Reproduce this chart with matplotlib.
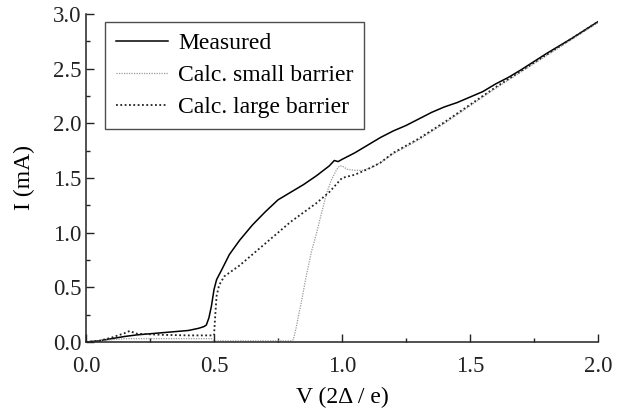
import matplotlib
matplotlib.use('Agg')
import matplotlib.pyplot as plt
from matplotlib.ticker import MultipleLocator

plt.rcParams['font.family'] = ['Liberation Serif', 'DejaVu Serif']

# measured curve
meas_v = [0.0, 0.05, 0.1, 0.15, 0.2, 0.25, 0.3, 0.35, 0.4, 0.44, 0.46, 0.47, 0.48, 0.49,
          0.5, 0.51, 0.53, 0.56, 0.6, 0.65, 0.7, 0.75, 0.8, 0.85, 0.9, 0.95, 0.97, 0.985,
          1.0, 1.05, 1.1, 1.15, 1.2, 1.25, 1.3, 1.35, 1.4, 1.45, 1.5, 1.55, 1.6, 1.65,
          1.7, 1.8, 1.9, 2.0]
meas_i = [0.0, 0.01, 0.03, 0.05, 0.065, 0.075, 0.085, 0.095, 0.105, 0.125, 0.14, 0.155,
          0.22, 0.33, 0.48, 0.57, 0.66, 0.8, 0.93, 1.07, 1.19, 1.30, 1.37, 1.44, 1.52,
          1.61, 1.66, 1.65, 1.67, 1.73, 1.80, 1.87, 1.93, 1.98, 2.04, 2.10, 2.15, 2.19,
          2.24, 2.29, 2.36, 2.42, 2.49, 2.64, 2.78, 2.93]

# calculated, small barrier
small_v = [0.0, 0.05, 0.1, 0.15, 0.2, 0.3, 0.4, 0.49, 0.5, 0.6, 0.7, 0.8, 0.81, 0.82,
           0.83, 0.84, 0.86, 0.88, 0.9, 0.92, 0.94, 0.96, 0.98, 0.99, 1.0, 1.02, 1.05,
           1.08, 1.12, 1.15, 1.2, 1.3, 1.4, 1.5, 1.6, 1.7, 1.8, 1.9, 2.0]
small_i = [0.0, 0.01, 0.02, 0.03, 0.03, 0.03, 0.03, 0.03, 0.01, 0.01, 0.01, 0.01, 0.02,
           0.12, 0.24, 0.35, 0.6, 0.82, 0.99, 1.18, 1.36, 1.49, 1.58, 1.61, 1.61, 1.58,
           1.57, 1.57, 1.6, 1.64, 1.72, 1.85, 2.0, 2.16, 2.32, 2.47, 2.62, 2.77, 2.92]

# calculated, large barrier
large_v = [0.0, 0.05, 0.1, 0.15, 0.17, 0.2, 0.25, 0.3, 0.4, 0.49, 0.5, 0.505, 0.51, 0.52,
           0.54, 0.6, 0.7, 0.8, 0.9, 0.95, 1.0, 1.05, 1.1, 1.15, 1.2, 1.3, 1.4, 1.5, 1.6,
           1.7, 1.8, 1.9, 2.0]
large_i = [0.0, 0.01, 0.04, 0.08, 0.1, 0.075, 0.07, 0.065, 0.06, 0.06, 0.06, 0.25, 0.42,
           0.52, 0.6, 0.7, 0.9, 1.1, 1.27, 1.37, 1.5, 1.53, 1.58, 1.64, 1.73, 1.86, 2.01,
           2.17, 2.33, 2.48, 2.63, 2.78, 2.93]

fig = plt.figure(figsize=(6.19, 4.12), dpi=100)
ax = fig.add_axes([0.139, 0.170, 0.827, 0.796])

ax.plot(meas_v, meas_i, color='black', lw=1.1, label='Measured')
ax.plot(small_v, small_i, color='#9a9a9a', lw=0.9, linestyle=(0, (1, 1)),
        label='Calc. small barrier')
ax.plot(large_v, large_i, color='#222222', lw=1.3, linestyle=(0, (1, 1.4)),
        label='Calc. large barrier')

ax.set_xlim(0, 2.0)
ax.set_ylim(0, 3.0)
ax.xaxis.set_major_locator(MultipleLocator(0.5))
ax.xaxis.set_minor_locator(MultipleLocator(0.25))
ax.yaxis.set_major_locator(MultipleLocator(0.5))
ax.yaxis.set_minor_locator(MultipleLocator(0.25))
ax.xaxis.set_major_formatter(lambda v, p: f'{v:.1f}')
ax.yaxis.set_major_formatter(lambda v, p: f'{v:.1f}')

ax.spines['top'].set_visible(False)
ax.spines['right'].set_visible(False)
for s in ['left', 'bottom']:
    ax.spines[s].set_linewidth(1.1)
    ax.spines[s].set_color('#222222')

ax.tick_params(which='both', direction='in', colors='#222222', width=1.0)
ax.tick_params(which='major', length=6, labelsize=16.5)
ax.tick_params(which='minor', length=3)
ax.tick_params(axis='x', pad=10)
ax.tick_params(axis='y', pad=3)

ax.set_xlabel('V (2Δ / e)', fontsize=17, labelpad=7)
ax.set_ylabel('I (mA)', fontsize=17, labelpad=13)

leg = ax.legend(loc='upper left', bbox_to_anchor=(0.037, 0.976), borderaxespad=0,
                fontsize=17, frameon=True, fancybox=False, handlelength=2.2,
                handletextpad=0.45, labelspacing=0.45, borderpad=0.45)
leg.get_frame().set_edgecolor('#222222')
leg.get_frame().set_linewidth(1.0)

fig.savefig('out.png', dpi=100)
